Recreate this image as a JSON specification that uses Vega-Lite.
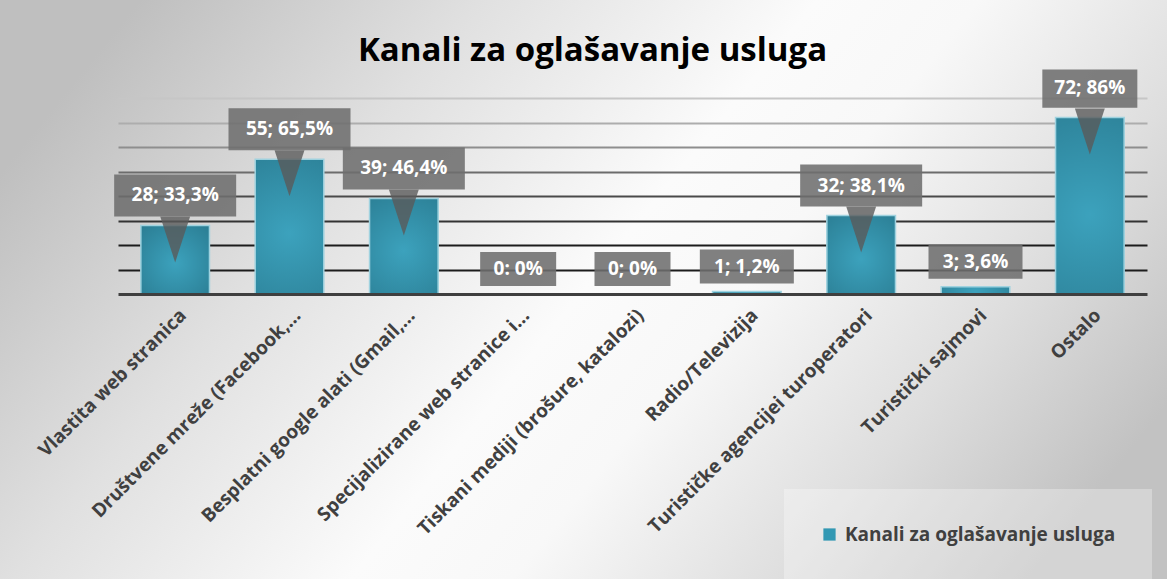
{
  "$schema": "https://vega.github.io/schema/vega-lite/v6.json",
  "width": 1167,
  "height": 579,
  "autosize": {"type": "none"},
  "padding": 0,
  "background": "#d9d9d9",
  "title": {
    "text": "Kanali za oglašavanje usluga",
    "font": "Open Sans",
    "fontSize": 33,
    "fontWeight": "bold",
    "color": "#000000",
    "anchor": "middle",
    "frame": "group",
    "offset": -68,
    "dx": 9
  },
  "data": {
    "values": [
      {"kanal": "Vlastita web stranica", "n": 28, "oznaka": "28; 33,3%"},
      {"kanal": "Društvene mreže (Facebook,…", "n": 55, "oznaka": "55; 65,5%"},
      {"kanal": "Besplatni google alati (Gmail,…", "n": 39, "oznaka": "39; 46,4%"},
      {"kanal": "Specijalizirane web stranice i…", "n": 0, "oznaka": "0: 0%"},
      {"kanal": "Tiskani mediji (brošure, katalozi)", "n": 0, "oznaka": "0; 0%"},
      {"kanal": "Radio/Televizija", "n": 1, "oznaka": "1; 1,2%"},
      {"kanal": "Turističke agencijei turoperatori", "n": 32, "oznaka": "32; 38,1%"},
      {"kanal": "Turistički sajmovi", "n": 3, "oznaka": "3; 3,6%"},
      {"kanal": "Ostalo", "n": 72, "oznaka": "72; 86%"}
    ]
  },
  "encoding": {
    "x": {
      "field": "kanal",
      "type": "nominal",
      "sort": null,
      "title": null,
      "scale": {"range": [118, 1147], "paddingInner": 0.4, "paddingOuter": 0.2},
      "axis": {
        "offset": -285,
        "zindex": 1,
        "domainColor": "#3f3f3f",
        "domainWidth": 3,
        "ticks": false,
        "labelAngle": -45,
        "labelAlign": "right",
        "labelBaseline": "middle",
        "labelPadding": 18,
        "labelOffset": 8,
        "labelFont": "Open Sans",
        "labelFontSize": 19,
        "labelFontWeight": "bold",
        "labelColor": "#404040",
        "labelLimit": 400,
        "grid": false
      }
    },
    "y": {
      "field": "n",
      "type": "quantitative",
      "title": null,
      "scale": {"domain": [0, 80], "range": [294, 98], "nice": false, "zero": true},
      "axis": {
        "values": [10, 20, 30, 40, 50, 60, 70, 80],
        "domain": false,
        "ticks": false,
        "labels": false,
        "grid": true,
        "gridWidth": 2,
        "gridColor": {
          "condition": [
            {"test": "datum.value == 80", "value": "#c6c6c6"},
            {"test": "datum.value == 70", "value": "#adadad"},
            {"test": "datum.value == 60", "value": "#8e8e8e"},
            {"test": "datum.value == 50", "value": "#6c6c6c"},
            {"test": "datum.value == 40", "value": "#4a4a4a"},
            {"test": "datum.value == 30", "value": "#333333"}
          ],
          "value": "#1c1c1c"
        }
      }
    }
  },
  "layer": [
    {
      "mark": {"type": "bar"},
      "encoding": {
        "color": {
          "datum": "Kanali za oglašavanje usluga",
          "type": "nominal",
          "scale": {"range": ["#3298b3"]},
          "legend": {
            "title": null,
            "orient": "none",
            "legendX": 784,
            "legendY": 489,
            "padding": 36,
            "fillColor": "rgba(255,255,255,0.3)",
            "symbolType": "square",
            "symbolSize": 150,
            "symbolStrokeWidth": 0,
            "labelFont": "Open Sans",
            "labelFontSize": 19,
            "labelFontWeight": "bold",
            "labelColor": "#404040",
            "labelLimit": 400,
            "labelOffset": 6
          }
        }
      }
    },
    {
      "mark": {
        "type": "bar",
        "stroke": "#9fd2df",
        "strokeWidth": 1.5,
        "fill": {
          "gradient": "radial",
          "x1": 0.5, "y1": 0.55, "r1": 0,
          "x2": 0.5, "y2": 0.55, "r2": 0.75,
          "stops": [
            {"offset": 0, "color": "#3ca2bd"},
            {"offset": 1, "color": "#2a7c92"}
          ]
        }
      }
    },
    {
      "transform": [{"filter": "datum.n >= 10"}],
      "mark": {
        "type": "point",
        "shape": "M-0.65,-1L0.65,-1L0,1Z",
        "size": 2116,
        "filled": true,
        "fill": "#5a5a5a",
        "opacity": 0.8,
        "strokeWidth": 0,
        "yOffset": 14
      }
    },
    {
      "transform": [{"filter": "datum.n >= 10 && datum.n != 72"}],
      "mark": {
        "type": "point",
        "shape": "M-1,-0.344L1,-0.344L1,0.344L-1,0.344Z",
        "size": 14884,
        "filled": true,
        "fill": "#6e6e6e",
        "opacity": 0.88,
        "strokeWidth": 0,
        "yOffset": -30
      }
    },
    {
      "transform": [{"filter": "datum.n == 72"}],
      "mark": {
        "type": "point",
        "shape": "M-1,-0.404L1,-0.404L1,0.404L-1,0.404Z",
        "size": 9025,
        "filled": true,
        "fill": "#6e6e6e",
        "opacity": 0.88,
        "strokeWidth": 0,
        "yOffset": -29
      }
    },
    {
      "transform": [{"filter": "datum.n == 1 || datum.n == 3"}],
      "mark": {
        "type": "point",
        "shape": "M-1,-0.362L1,-0.362L1,0.362L-1,0.362Z",
        "size": 8836,
        "filled": true,
        "fill": "#6e6e6e",
        "opacity": 0.88,
        "strokeWidth": 0,
        "yOffset": -25
      }
    },
    {
      "transform": [{"filter": "datum.n == 0"}],
      "mark": {
        "type": "point",
        "shape": "M-1,-0.447L1,-0.447L1,0.447L-1,0.447Z",
        "size": 5776,
        "filled": true,
        "fill": "#6e6e6e",
        "opacity": 0.88,
        "strokeWidth": 0,
        "yOffset": -25
      }
    },
    {
      "transform": [{"filter": "datum.n >= 10"}],
      "mark": {
        "type": "text",
        "font": "Open Sans",
        "fontSize": 19,
        "fontWeight": "bold",
        "color": "#ffffff",
        "baseline": "middle",
        "align": "center",
        "yOffset": -30
      },
      "encoding": {"text": {"field": "oznaka"}}
    },
    {
      "transform": [{"filter": "datum.n < 10"}],
      "mark": {
        "type": "text",
        "font": "Open Sans",
        "fontSize": 19,
        "fontWeight": "bold",
        "color": "#ffffff",
        "baseline": "middle",
        "align": "center",
        "yOffset": -25
      },
      "encoding": {"text": {"field": "oznaka"}}
    }
  ],
  "config": {
    "view": {
      "stroke": null,
      "fill": {
        "gradient": "linear",
        "x1": 0, "y1": 0.3, "x2": 1, "y2": 0.7,
        "stops": [
          {"offset": 0, "color": "#bfbfbf"},
          {"offset": 0.25, "color": "#e0e0e0"},
          {"offset": 0.5, "color": "#fbfbfb"},
          {"offset": 0.62, "color": "#f8f8f8"},
          {"offset": 0.82, "color": "#dedede"},
          {"offset": 1, "color": "#c2c2c2"}
        ]
      }
    }
  }
}
